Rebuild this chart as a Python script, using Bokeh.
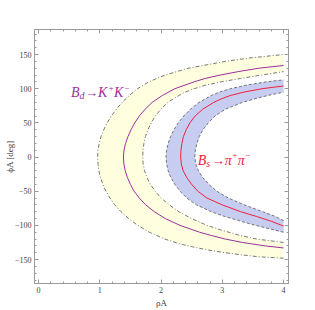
from bokeh.plotting import figure
from bokeh.models import Range1d, LinearAxis, SingleIntervalTicker, Label, CustomJSTickFormatter
from bokeh.embed import file_html
from bokeh.resources import INLINE

# ---- data (phi in degrees, rho) ----
# B_d -> K+K-  band: outer dash-dot boundary, central line, inner dash-dot boundary
bd_outer_phi = [-148, -146, -143, -140, -136, -130, -126, -120, -110, -100, -90, -80, -70, -60, -50, -40, -30, -20, -10, 0,
                10, 20, 30, 40, 50, 60, 70, 80, 90, 100, 110, 120, 130, 140, 145, 150]
bd_outer_rho = [4.0, 3.6, 3.31, 3.05, 2.77, 2.44, 2.27, 2.06, 1.81, 1.62, 1.47, 1.345, 1.245, 1.165, 1.10, 1.05, 1.01, 0.985, 0.971, 0.965,
                0.971, 0.99, 1.02, 1.065, 1.12, 1.19, 1.27, 1.365, 1.48, 1.615, 1.80, 2.065, 2.45, 3.05, 3.45, 4.0]

bd_center_phi = [-133, -130, -125, -120, -115, -110, -100, -90, -80, -70, -60, -50, -40, -30, -20, -10, 0,
                 10, 20, 30, 40, 50, 60, 70, 80, 90, 100, 110, 115, 120, 125, 130, 134]
bd_center_rho = [4.0, 3.7, 3.33, 3.05, 2.83, 2.63, 2.31, 2.07, 1.89, 1.75, 1.645, 1.56, 1.50, 1.45, 1.415, 1.393, 1.385,
                 1.395, 1.42, 1.46, 1.51, 1.57, 1.645, 1.74, 1.855, 2.02, 2.225, 2.54, 2.72, 2.97, 3.26, 3.6, 4.0]

bd_inner_phi = [-125, -120, -114, -107, -100, -90, -80, -70, -60, -50, -40, -30, -20, -10, 0,
                10, 20, 30, 40, 50, 60, 70, 80, 90, 95, 100, 105, 110, 115, 120, 125]
bd_inner_rho = [4.0, 3.56, 3.26, 2.99, 2.75, 2.5, 2.29, 2.135, 2.0, 1.905, 1.825, 1.77, 1.73, 1.707, 1.70,
                1.705, 1.72, 1.745, 1.785, 1.84, 1.905, 1.995, 2.11, 2.29, 2.395, 2.54, 2.72, 2.98, 3.30, 3.64, 4.0]

# B_s -> pi+pi-  band: outer dashed boundary, central line, inner dashed boundary
bs_outer_phi = [-110, -99, -93, -87, -80, -70, -60, -50, -40, -30, -20, -10, 0,
                10, 20, 30, 40, 50, 60, 70, 80, 90, 95, 100, 105, 110, 113]
bs_outer_rho = [4.0, 3.5, 3.27, 3.04, 2.82, 2.58, 2.42, 2.31, 2.225, 2.16, 2.115, 2.09, 2.08,
                2.09, 2.115, 2.155, 2.21, 2.28, 2.37, 2.48, 2.62, 2.82, 2.95, 3.13, 3.38, 3.72, 4.0]

bs_center_phi = [-101, -94, -87, -80, -70, -60, -50, -40, -30, -20, -10, 0,
                 10, 20, 30, 40, 50, 60, 70, 80, 85, 90, 95, 100, 104]
bs_center_rho = [4.0, 3.80, 3.56, 3.30, 3.0, 2.75, 2.60, 2.50, 2.42, 2.36, 2.33, 2.32,
                 2.325, 2.34, 2.365, 2.41, 2.47, 2.555, 2.68, 2.86, 2.98, 3.13, 3.35, 3.65, 4.0]

bs_inner_phi = [-93, -86, -80, -70, -60, -50, -40, -30, -20, -10, 0,
                10, 20, 30, 40, 50, 60, 70, 80, 85, 90, 95]
bs_inner_rho = [4.0, 3.84, 3.66, 3.36, 3.10, 2.91, 2.78, 2.68, 2.61, 2.565, 2.55,
                2.56, 2.585, 2.625, 2.685, 2.77, 2.88, 3.05, 3.33, 3.52, 3.74, 4.0]

x_major_step = 1
y_major_step = 50
y_minus_labels = {-150: "\u2212150", -100: "\u2212100", -50: "\u221250"}
x_title = "\u03c1A"
y_title = "\u03d5A [deg]"

# ---- styles ----
SERIF = "Liberation Serif"
PURPLE = "#9B2F9E"
RED = "#F0203A"
YELLOW_FILL = "#FFFFDF"
BLUE_FILL = "#C7CDF1"
EDGE = "#555555"
FRAME = "#9A9A9A"
TXT = "#3A3A3A"

p = figure(width=312, height=310,
           x_range=Range1d(-0.066, 4.08), y_range=Range1d(-185, 186.6),
           output_backend="svg", toolbar_location=None,
           min_border_left=34, min_border_right=24, min_border_top=29, min_border_bottom=27,
           background_fill_color="white", border_fill_color="white")
p.grid.visible = False
p.outline_line_color = FRAME
p.outline_line_width = 1

# bands
p.patch(bd_outer_rho + bd_inner_rho[::-1], bd_outer_phi + bd_inner_phi[::-1],
        fill_color=YELLOW_FILL, line_color=None)
p.patch(bs_outer_rho + bs_inner_rho[::-1], bs_outer_phi + bs_inner_phi[::-1],
        fill_color=BLUE_FILL, line_color=None)

# boundaries
for r, f in [(bd_outer_rho, bd_outer_phi), (bd_inner_rho, bd_inner_phi)]:
    p.line(r, f, line_color=EDGE, line_width=0.8, line_dash="4 2 1 2")
for r, f in [(bs_outer_rho, bs_outer_phi), (bs_inner_rho, bs_inner_phi)]:
    p.line(r, f, line_color=EDGE, line_width=0.8, line_dash="3 2")

# central lines
p.line(bd_center_rho, bd_center_phi, line_color=PURPLE, line_width=1)
p.line(bs_center_rho, bs_center_phi, line_color=RED, line_width=1)

# axes
def style_axis(ax):
    ax.axis_line_color = FRAME
    ax.major_tick_line_color = FRAME
    ax.minor_tick_line_color = FRAME
    ax.major_tick_in = 4
    ax.major_tick_out = 0
    ax.minor_tick_in = 2
    ax.minor_tick_out = 0
    ax.major_label_text_font = SERIF
    ax.major_label_text_color = "#444444"
    ax.major_label_text_font_size = "8px"
    ax.axis_label_text_font = SERIF
    ax.axis_label_text_font_size = "9px"
    ax.axis_label_text_font_style = "normal"
    ax.axis_label_text_color = TXT

p.xaxis.ticker = SingleIntervalTicker(interval=x_major_step, num_minor_ticks=5)
p.yaxis.ticker = SingleIntervalTicker(interval=y_major_step, num_minor_ticks=5)
style_axis(p.xaxis[0])
style_axis(p.yaxis[0])
p.xaxis.major_label_standoff = 3
p.yaxis.major_label_standoff = 3
p.yaxis.major_label_overrides = y_minus_labels
p.xaxis.axis_label = x_title
p.yaxis.axis_label = y_title
p.xaxis.axis_label_standoff = 2
p.yaxis.axis_label_standoff = -3

blank = CustomJSTickFormatter(code="return ''")
top = LinearAxis(ticker=SingleIntervalTicker(interval=x_major_step, num_minor_ticks=5), formatter=blank)
right = LinearAxis(ticker=SingleIntervalTicker(interval=y_major_step, num_minor_ticks=5), formatter=blank)
style_axis(top)
style_axis(right)
top.major_label_standoff = 0
right.major_label_standoff = 0
p.add_layout(top, "above")
p.add_layout(right, "right")

# in-plot labels (data position + pixel offsets)
def formula(parts, x, y, color):
    for text, xo, yo, size in parts:
        p.add_layout(Label(x=x, y=y, x_offset=xo, y_offset=yo, text=text,
                           text_font=SERIF, text_font_size=size, text_color=color,
                           text_font_style="italic", text_baseline="alphabetic"))

formula([("B", 0, 0, "14px"), ("d", 8.5, -3, "10px"), ("\u2192", 14, 0, "13px"),
         ("K", 27, 0, "14px"), ("+", 37, 5, "9px"), ("K", 43, 0, "14px"), ("\u2212", 53, 5, "9px")],
        0.53, 94, PURPLE)
formula([("B", 0, 0, "14px"), ("s", 8.5, -3, "10px"), ("\u2192", 14, 0, "13px"),
         ("\u03c0", 27, 0, "14px"), ("+", 34, 5, "9px"), ("\u03c0", 40, 0, "14px"), ("\u2212", 47, 5, "9px")],
        2.6, -5, RED)

open("out.html", "w").write(file_html(p, INLINE))
